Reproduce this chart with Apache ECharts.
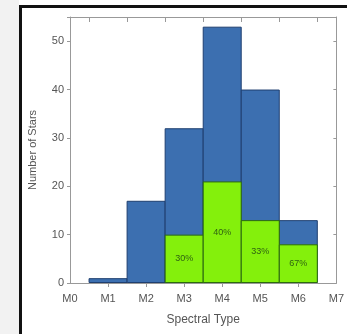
<!DOCTYPE html>
<html><head><meta charset="utf-8">
<script src="https://cdn.jsdelivr.net/npm/echarts@6/dist/echarts.min.js"></script>
<style>html,body{margin:0;padding:0;background:#fff}#c{width:347px;height:334px}</style>
</head><body><div id="c"></div>
<script>
const spectralTypes = ['M0','M1','M2','M3','M4','M5','M6','M7'];
const binPositions = [1, 2, 3, 4, 5, 6];
const binEdges = [0.5, 1.5, 2.5, 3.5, 4.5, 5.5, 6.5];
const totalCounts = [1, 17, 32, 53, 40, 13];
const greenCounts = [null, null, 10, 21, 13, 8];
const greenLabels = ['', '', '30%', '40%', '33%', '67%'];
const yTicks = [0, 10, 20, 30, 40, 50];

const chart = echarts.init(document.getElementById('c'), null, {renderer: 'canvas'});
const axisGray = '#999';
const txt = '#555';
const font = 'Liberation Sans';
chart.setOption({
  animation: false,
  backgroundColor: '#fff',
  textStyle: {fontFamily: font},
  graphic: [
    {type: 'rect', shape: {x: 0, y: 0, width: 19, height: 334}, style: {fill: '#f2f2f2'}, z: -10},
    {type: 'rect', shape: {x: 20.5, y: 6.5, width: 340, height: 340}, style: {fill: 'none', stroke: '#111', lineWidth: 3}, z: 100}
  ],
  grid: {left: 70, right: 6, top: 17, bottom: 51, show: false},
  xAxis: [{
    type: 'value', min: 0, max: 7, interval: 1,
    name: 'Spectral Type', nameLocation: 'middle', nameGap: 31,
    nameTextStyle: {color: txt, fontSize: 12, fontFamily: font},
    axisLine: {show: true, lineStyle: {color: axisGray}},
    axisTick: {show: true, inside: false, length: 4, lineStyle: {color: axisGray},
      customValues: binPositions},
    axisLabel: {color: txt, fontSize: 11, margin: 10, formatter: v => spectralTypes[v] || ''},
    splitLine: {show: false}
  }, {
    type: 'value', min: 0, max: 7, position: 'top',
    axisLine: {show: true, onZero: false, lineStyle: {color: axisGray}},
    axisTick: {show: true, inside: true, length: 5, lineStyle: {color: axisGray}, customValues: binEdges},
    axisLabel: {show: false}, splitLine: {show: false}
  }],
  yAxis: [{
    type: 'value', min: 0, max: 55, interval: 10,
    name: 'Number of Stars', nameLocation: 'middle', nameGap: 32,
    nameTextStyle: {color: txt, fontSize: 11, fontFamily: font},
    axisLine: {show: true, lineStyle: {color: axisGray}},
    axisTick: {show: true, inside: false, length: 3, lineStyle: {color: axisGray}},
    axisLabel: {color: txt, fontSize: 11, margin: 6, formatter: v => yTicks.includes(v) ? String(v) : ''},
    splitLine: {show: false}
  }, {
    type: 'value', min: 0, max: 55, interval: 10, position: 'right',
    axisLine: {show: true, onZero: false, lineStyle: {color: axisGray}},
    axisTick: {show: true, inside: true, length: 3, lineStyle: {color: axisGray}},
    axisLabel: {show: false}, splitLine: {show: false}
  }],
  series: [{
    type: 'bar', xAxisIndex: 0, yAxisIndex: 0,
    data: binPositions.map((x, i) => [x, totalCounts[i]]),
    barWidth: 39, barGap: '-100%',
    itemStyle: {color: '#3c6fb0', borderColor: '#1f3f70', borderWidth: 1}
  }, {
    type: 'bar', xAxisIndex: 0, yAxisIndex: 0,
    data: binPositions.map((x, i) => [x, greenCounts[i]]),
    barWidth: 39, barGap: '-100%',
    itemStyle: {color: '#84f00c', borderColor: '#2d6b10', borderWidth: 1},
    label: {show: true, position: 'inside', color: '#2f6212', fontSize: 9,
      formatter: p => greenLabels[p.dataIndex]}
  }, {
    type: 'scatter', xAxisIndex: 1, yAxisIndex: 1,
    data: [[0, 0]], symbolSize: 0, silent: true
  }]
});
</script></body></html>
